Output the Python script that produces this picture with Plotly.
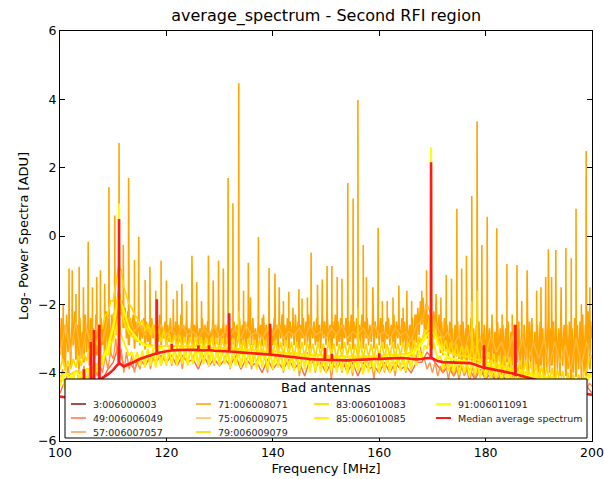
import numpy as np
import plotly.graph_objects as go

# Frequency channels (MHz) for the different sampling grids
freq_fine = np.round(np.arange(401) * 0.25 + 100.0, 2)
freq_half = np.round(np.arange(201) * 0.5 + 100.0, 2)
freq_mhz = np.arange(101) * 1.0 + 100.0
freq_coarse = np.arange(21) * 5.0 + 100.0

# Log power per antenna
ant_3 = [-6.5, -6.6, -6.4, -6.6, -6.5, -6.4, -6.6, -6.5, -6.5, -6.6, -6.4,
         -6.5, -6.6, -6.5, -6.4, -6.6, -6.5, -6.6, -6.4, -6.5, -6.6]

ant_49 = [-4.6, -4.2, -4.7, -4.3, -4.8, -4.4, -4.6, -4.3, -4.2, -3.9,
          -3.7, -3.2, -3.8, -3.7, -3.9, -3.6, -3.8, -3.5, -3.7, -3.5,
          -3.7, -3.5, -3.8, -3.5, -3.7, -3.6, -3.9, -3.5, -3.8, -3.6,
          -3.8, -3.6, -3.8, -3.5, -3.9, -3.6, -3.8, -3.7, -4.0, -3.6,
          -3.9, -3.7, -3.9, -3.6, -3.9, -3.7, -4.1, -3.6, -3.8, -3.7,
          -4.0, -3.7, -3.9, -3.6, -4.0, -3.7, -4.1, -3.7, -3.9, -3.8,
          -4.0, -3.7, -4.0, -3.7, -3.9, -3.8, -4.0, -3.7, -3.7, -3.4,
          -3.6, -3.8, -4.0, -3.8, -4.1, -3.8, -4.0, -3.9, -4.2, -3.9,
          -4.2, -4.0, -4.3, -4.0, -4.3, -4.1, -4.4, -4.1, -4.4, -4.2,
          -4.5, -4.2, -4.5, -4.3, -4.6, -4.3, -4.6, -4.4, -4.7, -4.4,
          -4.6]

ant_57 = [-4.3, -3.9, -4.5, -3.8, -4.4, -4.0, -4.6, -3.9, -4.3, -3.8,
          -4.4, -3.9, -4.2, -3.7, -4.1, -3.8, -4.0, -3.5, -3.9, -3.4,
          -3.6, -3.0, -3.8, -3.3, -4.0, -3.4, -3.9, -3.5, -4.0, -3.6,
          -3.9, -3.5, -3.8, -3.4, -3.9, -3.5, -3.7, -3.4, -3.8, -3.4,
          -3.7, -3.4, -3.8, -3.3, -3.6, -3.4, -3.9, -3.3, -3.7, -3.4,
          -3.6, -3.3, -3.8, -3.4, -3.7, -3.3, -3.6, -3.4, -3.8, -3.3,
          -3.7, -3.4, -3.6, -3.3, -3.9, -3.4, -3.7, -3.3, -3.8, -3.4,
          -3.7, -3.4, -3.9, -3.5, -3.7, -3.4, -3.8, -3.5, -4.0, -3.4,
          -3.8, -3.5, -3.7, -3.4, -4.0, -3.5, -3.8, -3.4, -3.9, -3.5,
          -4.1, -3.5, -3.8, -3.4, -3.9, -3.5, -4.0, -3.6, -3.8, -3.5,
          -3.9, -3.5, -4.2, -3.6, -3.8, -3.5, -4.0, -3.5, -3.9, -3.6,
          -4.1, -3.5, -3.9, -3.6, -4.0, -3.5, -3.8, -3.6, -4.2, -3.5,
          -3.9, -3.6, -4.0, -3.5, -3.9, -3.6, -4.1, -3.5, -3.8, -3.6,
          -4.0, -3.6, -3.9, -3.4, -3.6, -3.0, -3.5, -3.6, -3.9, -3.7,
          -4.0, -3.7, -4.1, -3.8, -4.0, -3.7, -4.2, -3.8, -4.1, -3.8,
          -4.2, -3.8, -4.1, -3.9, -4.3, -3.8, -4.2, -3.9, -4.1, -3.9,
          -4.3, -3.9, -4.2, -4.0, -4.4, -3.9, -4.3, -4.0, -4.2, -4.0,
          -4.4, -4.0, -4.3, -4.1, -4.5, -4.0, -4.4, -4.1, -4.3, -4.1,
          -4.5, -4.1, -4.4, -4.2, -4.6, -4.1, -4.5, -4.2, -4.4, -4.2,
          -4.6, -4.2, -4.5, -4.3, -4.7, -4.2, -4.6, -4.3, -4.5, -4.3,
          -4.4]

ant_71 = [-3.3, -2.4, -3.7, -2.6, -3.9, -2.3, -3.4, -2.7, -3.8, -2.5, -3.2, -2.2, -3.6, -2.6, -3.9, -2.4, -3.5, -2.8, -3.7, -2.3,
          -3.4, -2.5, -3.8, -2.4, -3.3, -2.7, -3.6, -2.3, -3.5, -2.6, -3.7, -2.4, -3.2, -2.5, -3.6, -2.2, -3.3, -2.4, -3.5, -2.3,
          -3.1, -2.2, -2.9, -1.9, -2.6, -1.7, -2.3, -1.9, -2.7, -2.1, -3.0, -2.2, -3.2, -2.4, -2.9, -2.3, -3.3, -2.5, -3.1, -2.3,
          -3.2, -2.6, -3.0, -2.4, -3.3, -2.5, -3.1, -2.7, -3.2, -2.4, -3.0, -2.6, -3.3, -2.5, -3.1, -2.3, -3.2, -2.7, -3.0, -2.5,
          -3.2, -2.6, -3.1, -2.4, -3.3, -2.7, -3.0, -2.5, -3.2, -2.6, -3.1, -2.3, -3.3, -2.6, -3.0, -2.5, -3.2, -2.7, -3.1, -2.4,
          -3.3, -2.6, -3.0, -2.5, -3.2, -2.7, -3.1, -2.4, -3.3, -2.6, -3.0, -2.5, -3.2, -2.8, -3.1, -2.4, -3.3, -2.6, -3.0, -2.5,
          -3.2, -2.7, -3.1, -2.5, -3.3, -2.6, -3.0, -2.4, -3.2, -2.7, -3.1, -2.5, -3.3, -2.6, -3.0, -2.4, -3.2, -2.6, -3.1, -2.5,
          -3.3, -2.5, -3.0, -2.6, -3.2, -2.4, -3.1, -2.7, -3.3, -2.5, -3.0, -2.6, -3.2, -2.3, -3.1, -2.6, -3.3, -2.5, -3.0, -2.7,
          -3.2, -2.4, -3.1, -2.6, -3.3, -2.5, -3.0, -2.3, -3.2, -2.6, -3.1, -2.4, -3.3, -2.5, -3.0, -2.6, -3.2, -2.3, -3.1, -2.5,
          -3.3, -2.6, -3.0, -2.4, -3.2, -2.5, -3.1, -2.3, -3.3, -2.6, -3.0, -2.5, -3.2, -2.4, -3.1, -2.6, -3.3, -2.3, -3.0, -2.5,
          -3.2, -2.4, -3.1, -2.6, -3.3, -2.5, -3.0, -2.3, -3.2, -2.5, -3.1, -2.4, -3.3, -2.6, -3.0, -2.4, -3.2, -2.5, -3.1, -2.3,
          -3.3, -2.5, -3.0, -2.4, -3.2, -2.6, -3.1, -2.3, -3.3, -2.5, -3.0, -2.4, -3.2, -2.6, -3.1, -2.4, -3.3, -2.5, -3.0, -2.6,
          -3.2, -2.4, -3.1, -2.6, -3.3, -2.5, -3.0, -2.4, -3.2, -2.6, -3.1, -2.3, -3.3, -2.5, -3.0, -2.6, -3.2, -2.4, -3.1, -2.5,
          -3.4, -2.5, -3.2, -2.6, -3.5, -2.4, -3.3, -2.3, -3.1, -2.1, -2.9, -1.9, -2.6, -1.8, -2.8, -2.0, -3.0, -2.3, -3.2, -2.4,
          -3.3, -2.2, -3.0, -2.1, -3.2, -2.3, -3.4, -2.5, -3.5, -2.4, -3.3, -2.6, -3.6, -2.5, -3.4, -2.7, -3.7, -2.6, -3.5, -2.5,
          -3.6, -2.6, -3.8, -2.5, -3.5, -2.7, -3.9, -2.6, -3.6, -2.4, -3.8, -2.7, -3.5, -2.6, -3.9, -2.5, -3.7, -2.8, -3.6, -2.6,
          -3.8, -2.5, -3.6, -2.7, -4.0, -2.6, -3.7, -2.8, -3.9, -2.5, -3.6, -2.7, -4.0, -2.6, -3.8, -2.7, -3.7, -2.5, -4.0, -2.8,
          -3.8, -2.6, -4.1, -2.7, -3.7, -2.5, -3.9, -2.8, -4.1, -2.6, -3.8, -2.7, -4.0, -2.5, -3.7, -2.6, -4.1, -2.8, -3.9, -2.6,
          -4.0, -2.5, -3.8, -2.7, -4.1, -2.6, -3.9, -2.4, -4.0, -2.7, -3.8, -2.5, -4.2, -2.6, -3.9, -2.7, -4.1, -2.5, -3.8, -2.6,
          -4.1, -2.6, -3.9, -2.5, -4.2, -2.7, -4.0, -2.4, -4.1, -2.6, -3.9, -2.5, -4.2, -2.3, -4.0, -2.6, -4.1, -2.2, -3.9, -2.5,
          -3.0]

ant_75 = [-3.5, -2.6, -3.4, -2.5, -3.6, -2.7, -3.3, -2.6, -3.1, -2.4,
          -2.3, -2.0, -2.5, -2.4, -2.8, -2.6, -2.9, -2.7, -3.0, -2.6,
          -2.9, -2.7, -3.0, -2.6, -2.9, -2.8, -3.0, -2.7, -2.9, -2.6,
          -3.0, -2.8, -2.9, -2.7, -3.0, -2.6, -2.9, -2.8, -3.0, -2.7,
          -2.9, -2.6, -3.0, -2.8, -2.9, -2.7, -3.0, -2.6, -2.9, -2.8,
          -3.0, -2.7, -2.9, -2.6, -3.0, -2.8, -2.9, -2.7, -3.0, -2.6,
          -2.9, -2.8, -3.0, -2.7, -2.9, -2.8, -3.1, -2.6, -2.5, -2.0,
          -2.4, -2.7, -3.0, -2.8, -3.2, -2.9, -3.4, -2.8, -3.3, -3.0,
          -3.5, -2.9, -3.4, -3.1, -3.6, -2.9, -3.5, -3.0, -3.7, -3.1,
          -3.6, -3.0, -3.8, -3.1, -3.7, -3.2, -3.9, -3.0, -3.8, -3.1,
          -3.6]

ant_79 = [-3.9, -3.6, -3.95, -3.65, -3.9, -3.6, -3.85, -3.5, -3.8, -3.45,
          -3.65, -3.3, -3.5, -3.0, -3.2, -2.7, -2.7, -2.3, -2.3, -1.9,
          -1.9, -1.4, -0.9, -1.0, -1.5, -1.75, -2.0, -2.1, -2.3, -2.4,
          -2.6, -2.45, -2.8, -2.55, -2.9, -2.6, -3.0, -2.7, -3.1, -2.75,
          -3.2, -2.85, -3.25, -2.9, -3.3, -2.9, -3.3, -2.95, -3.35, -2.95,
          -3.35, -2.95, -3.4, -2.95, -3.35, -3.0, -3.4, -2.95, -3.35, -3.0,
          -3.4, -3.0, -3.35, -2.95, -3.4, -3.0, -3.45, -3.0, -3.4, -3.05,
          -3.45, -3.0, -3.4, -3.05, -3.45, -3.0, -3.5, -3.05, -3.45, -3.05,
          -3.5, -3.05, -3.45, -3.1, -3.5, -3.05, -3.5, -3.1, -3.55, -3.1,
          -3.5, -3.1, -3.55, -3.1, -3.5, -3.15, -3.55, -3.1, -3.5, -3.15,
          -3.55, -3.1, -3.5, -3.15, -3.6, -3.15, -3.55, -3.1, -3.5, -3.15,
          -3.6, -3.15, -3.55, -3.1, -3.6, -3.15, -3.55, -3.15, -3.6, -3.15,
          -3.55, -3.1, -3.6, -3.15, -3.55, -3.1, -3.6, -3.15, -3.5, -3.1,
          -3.5, -3.1, -3.45, -3.05, -3.3, -2.95, -3.1, -2.75, -2.8, -2.35,
          -2.55, -2.7, -3.0, -2.95, -3.3, -3.05, -3.4, -3.1, -3.5, -3.15,
          -3.55, -3.2, -3.6, -3.2, -3.65, -3.25, -3.7, -3.3, -3.75, -3.35,
          -3.8, -3.4, -3.8, -3.45, -3.85, -3.5, -3.9, -3.5, -3.95, -3.55,
          -4.0, -3.6, -4.0, -3.65, -4.05, -3.65, -4.1, -3.7, -4.15, -3.75,
          -4.2, -3.8, -4.2, -3.85, -4.25, -3.85, -4.3, -3.9, -4.35, -3.95,
          -4.4, -4.0, -4.4, -4.05, -4.45, -4.05, -4.5, -4.0, -3.9, -3.6,
          -3.5]

ant_83 = [-4.1, -4.0, -4.05, -3.95, -4.0, -3.9, -3.85, -3.75, -3.55, -3.2,
          -2.6, -1.6, -2.5, -2.85, -3.0, -3.1, -3.15, -3.2, -3.2, -3.25,
          -3.2, -3.25, -3.2, -3.25, -3.2, -3.25, -3.2, -3.25, -3.25, -3.3,
          -3.25, -3.3, -3.25, -3.3, -3.3, -3.35, -3.3, -3.35, -3.35, -3.4,
          -3.35, -3.4, -3.4, -3.45, -3.4, -3.45, -3.45, -3.5, -3.45, -3.5,
          -3.5, -3.5, -3.55, -3.5, -3.55, -3.5, -3.55, -3.5, -3.55, -3.5,
          -3.5, -3.5, -3.45, -3.5, -3.45, -3.45, -3.4, -3.3, -3.05, -2.75,
          -2.65, -3.05, -3.3, -3.4, -3.45, -3.5, -3.5, -3.55, -3.6, -3.65,
          -3.7, -3.7, -3.75, -3.8, -3.85, -3.9, -3.95, -4.0, -4.0, -4.05,
          -4.1, -4.15, -4.2, -4.2, -4.25, -4.3, -4.35, -4.4, -4.3, -4.1,
          -4.0]

ant_85 = [-4.4, -4.1, -4.5, -4.2, -4.4, -4.1, -4.35, -4.05, -4.3, -4.0,
          -4.2, -3.9, -4.1, -3.8, -4.0, -3.6, -3.8, -3.4, -3.5, -3.1,
          -3.1, -2.7, -2.4, -2.9, -3.1, -3.3, -3.5, -3.4, -3.7, -3.4,
          -3.8, -3.35, -3.85, -3.3, -3.8, -3.3, -3.85, -3.35, -3.8, -3.3,
          -3.8, -3.25, -3.75, -3.3, -3.8, -3.25, -3.75, -3.3, -3.8, -3.25,
          -3.75, -3.3, -3.8, -3.25, -3.75, -3.3, -3.8, -3.3, -3.75, -3.3,
          -3.8, -3.3, -3.75, -3.3, -3.85, -3.3, -3.8, -3.35, -3.85, -3.3,
          -3.85, -3.35, -3.8, -3.35, -3.9, -3.35, -3.85, -3.4, -3.9, -3.35,
          -3.9, -3.4, -3.85, -3.4, -3.95, -3.4, -3.9, -3.45, -3.95, -3.4,
          -3.95, -3.45, -3.9, -3.45, -4.0, -3.45, -3.95, -3.5, -4.0, -3.45,
          -4.0, -3.5, -3.95, -3.5, -4.0, -3.5, -3.95, -3.5, -4.05, -3.5,
          -4.0, -3.5, -3.95, -3.5, -4.05, -3.5, -4.0, -3.5, -3.95, -3.5,
          -4.0, -3.5, -3.95, -3.45, -4.0, -3.5, -3.95, -3.45, -3.95, -3.5,
          -3.95, -3.45, -3.9, -3.4, -3.8, -3.35, -3.6, -3.2, -3.3, -2.9,
          -3.0, -3.3, -3.6, -3.5, -3.9, -3.55, -3.95, -3.6, -4.0, -3.6,
          -4.05, -3.65, -4.0, -3.65, -4.1, -3.65, -4.05, -3.7, -4.15, -3.7,
          -4.15, -3.75, -4.2, -3.75, -4.2, -3.8, -4.25, -3.8, -4.3, -3.85,
          -4.3, -3.9, -4.35, -3.9, -4.4, -3.95, -4.4, -4.0, -4.45, -4.0,
          -4.5, -4.05, -4.5, -4.1, -4.55, -4.1, -4.6, -4.15, -4.6, -4.2,
          -4.65, -4.2, -4.7, -4.25, -4.7, -4.3, -4.7, -4.2, -4.3, -4.1,
          -4.0]

ant_91 = [-4.2, -4.05, -4.15, -4.0, -4.1, -3.95, -4.0, -3.8, -3.6, -3.3,
          -2.7, -1.8, -2.2, -2.7, -2.9, -3.1, -3.2, -3.25, -3.3, -3.3,
          -3.35, -3.3, -3.35, -3.3, -3.35, -3.3, -3.4, -3.35, -3.4, -3.35,
          -3.4, -3.35, -3.4, -3.4, -3.45, -3.4, -3.45, -3.45, -3.5, -3.45,
          -3.5, -3.5, -3.55, -3.5, -3.55, -3.55, -3.6, -3.55, -3.6, -3.6,
          -3.6, -3.6, -3.65, -3.6, -3.65, -3.6, -3.65, -3.6, -3.6, -3.6,
          -3.6, -3.55, -3.6, -3.55, -3.55, -3.5, -3.45, -3.35, -3.15, -2.9,
          -2.8, -3.15, -3.4, -3.55, -3.6, -3.65, -3.65, -3.7, -3.75, -3.8,
          -3.85, -3.85, -3.9, -3.95, -4.0, -4.0, -4.05, -4.1, -4.1, -4.15,
          -4.2, -4.25, -4.3, -4.3, -4.35, -4.4, -4.45, -4.5, -4.35, -4.2,
          -4.1]

median_spectrum = [-4.70, -4.72, -4.70, -4.68, -4.62, -4.55, -4.45, -4.30, -4.15, -4.05,
                   -3.92, -3.72, -3.82, -3.76, -3.68, -3.60, -3.54, -3.48, -3.44, -3.40,
                   -3.37, -3.35, -3.34, -3.33, -3.34, -3.33, -3.34, -3.35, -3.34, -3.36,
                   -3.37, -3.38, -3.38, -3.40, -3.40, -3.42, -3.43, -3.44, -3.46, -3.47,
                   -3.48, -3.50, -3.52, -3.54, -3.56, -3.58, -3.59, -3.60, -3.61, -3.62,
                   -3.62, -3.63, -3.63, -3.64, -3.64, -3.63, -3.63, -3.62, -3.61, -3.60,
                   -3.60, -3.59, -3.58, -3.58, -3.57, -3.58, -3.60, -3.61, -3.60, -3.57,
                   -3.58, -3.66, -3.69, -3.70, -3.71, -3.72, -3.72, -3.72, -3.76, -3.82,
                   -3.86, -3.89, -3.92, -3.95, -3.98, -4.02, -4.06, -4.10, -4.15, -4.20,
                   -4.24, -4.28, -4.32, -4.36, -4.40, -4.45, -4.50, -4.55, -4.58, -4.62,
                   -4.65]

# Narrow RFI lines: (frequency MHz, peak log power)
spikes_71 = [(100.6, -2.0), (101.7, -0.95), (102.3, -1.0), (103.0, -1.7), (103.6, -0.9),
             (104.4, -1.5), (105.3, -0.17), (106.1, -1.5), (106.9, -1.2), (107.6, -1.0),
             (108.4, -1.4), (109.2, 1.43), (110.3, 0.6), (111.1, 2.72), (111.9, -0.26),
             (112.9, 1.70), (114.0, -0.7), (114.8, -0.02), (116.0, -1.29), (116.9, -0.9),
             (118.0, -1.6), (119.0, -0.72), (120.0, -1.3), (121.3, -1.85), (122.0, -1.6),
             (122.9, -1.4), (123.8, -1.9), (124.8, -0.58), (125.7, -1.35), (126.6, -1.9),
             (127.9, -0.57), (128.8, -1.3), (129.8, -0.72), (130.7, -0.95), (131.6, 1.70),
             (132.5, 0.96), (133.6, 4.47), (134.5, -1.6), (135.4, -0.78), (135.8, -1.8),
             (137.3, -0.03), (138.0, -2.4), (139.3, -0.94), (140.4, -1.1), (141.2, -1.5),
             (142.0, -1.9), (143.0, -1.63), (143.8, -2.1), (144.9, -1.56), (145.5, -1.83),
             (146.5, -1.8), (147.2, -0.48), (148.4, -1.43), (149.3, -1.27), (150.2, -0.88),
             (151.1, -0.88), (152.1, -1.2), (153.0, -1.25), (154.1, 1.55), (155.1, 1.10),
             (156.0, 3.98), (157.0, -0.26), (157.6, -1.2), (158.8, -1.5), (159.8, 0.24),
             (160.6, -1.9), (161.5, -1.9), (162.6, -1.8), (163.7, -1.45), (164.5, -2.1),
             (165.2, -1.6), (166.1, -1.9), (167.0, -2.3), (168.0, -1.6), (168.9, -1.0),
             (169.75, 2.3), (170.7, -1.7), (171.6, -1.8), (172.6, -1.14), (173.6, -1.25),
             (174.6, 0.80), (175.5, -0.95), (176.4, -0.58), (177.4, 1.17), (178.4, 3.36),
             (179.3, -0.26), (180.3, 0.56), (181.2, -2.3), (182.1, 0.23), (183.1, -2.3),
             (184.0, -0.82), (185.0, -2.3), (185.9, -0.85), (186.8, -1.9), (187.8, -1.0),
             (188.7, -2.4), (189.6, -1.6), (190.4, -1.5), (191.3, -1.2), (191.8, -0.39),
             (192.4, -1.2), (193.2, -0.41), (194.2, -1.5), (195.1, -0.35), (196.1, -0.65),
             (197.0, 0.80), (198.0, -2.0), (198.9, 2.49), (199.6, -1.5)]
spikes_79 = [(133.6, -2.2), (156.0, -2.1), (177.4, -1.9), (178.4, -1.6)]
spikes_91 = [(111.1, 0.95), (169.75, 2.6)]
spikes_median = [(104.5, -3.9), (105.8, -3.1), (106.4, -2.75), (107.4, -2.6), (111.1, 0.5),
                 (118.2, -1.85), (121.0, -3.16), (126.0, -3.2), (128.0, -3.2), (131.8, -2.26),
                 (139.5, -2.57), (149.8, -3.28), (151.1, -3.45), (160.0, -3.43), (169.75, 2.16),
                 (179.7, -3.2), (185.6, -2.6)]


def with_lines(freq, level, spikes, half_width=0.04):
    """Merge narrow spectral lines into a sampled spectrum."""
    freq = np.asarray(freq, dtype=float)
    level = np.asarray(level, dtype=float)
    f = list(freq)
    v = list(level)
    for fc, peak in spikes:
        foot = level[int(np.argmin(np.abs(freq - fc)))]
        f += [fc - half_width, fc, fc + half_width]
        v += [foot, peak, foot]
    order = np.argsort(f, kind="stable")
    return np.asarray(f)[order], np.asarray(v)[order]


# name, grid, values, lines, colour, line width
series = [
    ("3:006000003", freq_coarse, ant_3, [], "#800000", 1.4),
    ("49:006006049", freq_mhz, ant_49, [], "#FF6A3D", 1.4),
    ("57:006007057", freq_half, ant_57, [], "#FF9448", 1.4),
    ("71:006008071", freq_fine, ant_71, spikes_71, "#FFA500", 1.6),
    ("75:006009075", freq_mhz, ant_75, [], "#FFB940", 1.4),
    ("79:006009079", freq_half, ant_79, spikes_79, "#FFD700", 1.7),
    ("83:006010083", freq_mhz, ant_83, [], "#FFE000", 1.9),
    ("85:006010085", freq_half, ant_85, [], "#FFF000", 1.9),
    ("91:006011091", freq_mhz, ant_91, spikes_91, "#FFFF00", 2.0),
    ("Median average spectrum", freq_mhz, median_spectrum, spikes_median, "#FF1A1A", 2.6),
]

fig = go.Figure()
for name, freq, level, spikes, color, width in series:
    x, y = with_lines(freq, level, spikes)
    fig.add_trace(go.Scatter(x=x, y=y, mode="lines", name=name,
                             line=dict(color=color, width=width), showlegend=False))

# Legend box drawn in paper coordinates, filled column by column (3 rows)
PLOT_L, PLOT_R, PLOT_T, PLOT_B = 60, 592, 31, 441


def px(xp):
    return (xp - PLOT_L) / (PLOT_R - PLOT_L)


def py(yp):
    return (PLOT_B - yp) / (PLOT_B - PLOT_T)


shapes = [dict(type="rect", xref="paper", yref="paper",
               x0=px(65), x1=px(587), y0=py(438), y1=py(379),
               fillcolor="white", line=dict(color="black", width=1), layer="above")]
annotations = [dict(text="Bad antennas", xref="paper", yref="paper", x=px(326), y=py(387.5),
                    xanchor="center", yanchor="middle", showarrow=False,
                    font=dict(size=13, color="black"))]
col_x = [71, 196, 314, 436]
row_y = [404, 418, 432]
slots = [(0, 0), (0, 1), (0, 2), (1, 0), (1, 1), (1, 2), (2, 0), (2, 1), (3, 0), (3, 1)]
for (name, _, _, _, color, width), (c, r) in zip(series, slots):
    x0 = col_x[c]
    yy = py(row_y[r])
    shapes.append(dict(type="line", xref="paper", yref="paper", x0=px(x0), x1=px(x0 + 15),
                       y0=yy, y1=yy, line=dict(color=color, width=min(width, 2.0)),
                       layer="above"))
    annotations.append(dict(text=name, xref="paper", yref="paper", x=px(x0 + 20), y=yy,
                            xanchor="left", yanchor="middle", showarrow=False,
                            font=dict(size=9.5, color="#222222")))

axis_style = dict(
    showline=True, linecolor="black", linewidth=1, mirror="ticks",
    ticks="inside", ticklen=5, tickcolor="black", tickwidth=1,
    showgrid=False, zeroline=False, automargin=False,
    tickfont=dict(size=12.5, color="black"),
)

fig.update_xaxes(range=[100, 200], tick0=100, dtick=20,
                 title=dict(text="Frequency [MHz]", font=dict(size=13), standoff=4),
                 **axis_style)
fig.update_yaxes(range=[-6, 6], tick0=-6, dtick=2,
                 title=dict(text="Log- Power Spectra [ADU]", font=dict(size=13), standoff=6),
                 **axis_style)

fig.update_layout(
    width=604, height=479,
    margin=dict(l=60, r=12, t=31, b=38),
    paper_bgcolor="white", plot_bgcolor="white",
    font=dict(family="DejaVu Sans", size=12, color="black"),
    title=dict(text="average_spectrum - Second RFI region", x=0.54, xanchor="center",
               y=1 - 15 / 479, yanchor="middle", font=dict(size=16)),
    showlegend=False,
    shapes=shapes,
    annotations=annotations,
)

fig.write_html("out.html")
